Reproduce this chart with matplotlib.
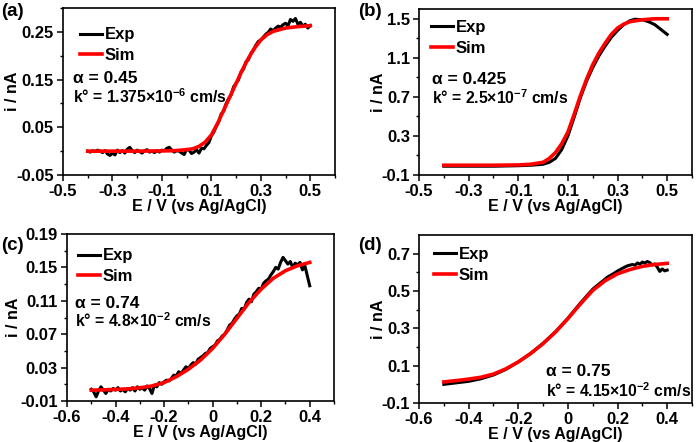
import numpy as np
import matplotlib
matplotlib.use("Agg")
import matplotlib.pyplot as plt

plt.rcParams['font.family'] = ['Liberation Sans', 'DejaVu Sans']
plt.rcParams['font.weight'] = 'bold'
plt.rcParams['mathtext.fontset'] = 'custom'
plt.rcParams['mathtext.rm'] = 'Liberation Sans:bold'
plt.rcParams['mathtext.bf'] = 'Liberation Sans:bold'

# ---------------- data ----------------
# (a)
exp_a_x = np.round(np.arange(-0.40, 0.501, 0.01), 2)
exp_a_y = [0.000, -0.002, 0.001, -0.001, 0.002, 0.000, -0.003, 0.001, -0.006, -0.009,
           -0.004, -0.008, 0.002, -0.003, 0.001, -0.004, 0.004, 0.008, 0.001, -0.003,
           0.002, -0.001, -0.004, 0.001, 0.003, -0.002, 0.000, -0.003, 0.001, -0.002,
           0.002, 0.001, 0.006, 0.008, 0.002, -0.002, 0.001, 0.000, -0.004, -0.007,
           0.004, 0.002, -0.005, -0.002, 0.003, -0.004, 0.006, 0.005, 0.012, 0.018,
           0.032, 0.040, 0.052, 0.062, 0.078, 0.084, 0.100, 0.110, 0.118, 0.135,
           0.142, 0.150, 0.166, 0.172, 0.187, 0.192, 0.205, 0.212, 0.222, 0.230,
           0.233, 0.239, 0.245, 0.249, 0.256, 0.252, 0.258, 0.262, 0.260, 0.265,
           0.268, 0.263, 0.276, 0.272, 0.278, 0.266, 0.270, 0.262, 0.266, 0.258,
           0.263]
sim_a_x = [-0.4, -0.3, -0.2, -0.1, -0.05, 0, 0.025, 0.05, 0.075, 0.1, 0.125, 0.15,
           0.175, 0.2, 0.225, 0.25, 0.275, 0.3, 0.325, 0.35, 0.4, 0.45, 0.5]
sim_a_y = [0.000, 0.000, 0.000, 0.0005, 0.001, 0.003, 0.005, 0.010, 0.019, 0.034,
           0.058, 0.086, 0.114, 0.142, 0.170, 0.195, 0.216, 0.233, 0.244, 0.251,
           0.258, 0.261, 0.263]

# (b)
exp_b_x = [-0.4, -0.2, -0.1, -0.05, 0, 0.025, 0.05, 0.075, 0.1, 0.125, 0.15, 0.175,
           0.2, 0.225, 0.25, 0.275, 0.3, 0.325, 0.35, 0.37, 0.4, 0.425, 0.45, 0.475, 0.5]
exp_b_y = [-0.01, -0.01, -0.005, 0.0, 0.01, 0.03, 0.07, 0.16, 0.30, 0.49, 0.69, 0.86,
           1.00, 1.12, 1.22, 1.31, 1.38, 1.44, 1.48, 1.495, 1.49, 1.47, 1.44, 1.39, 1.34]
sim_b_x = [-0.4, -0.2, -0.1, -0.05, 0, 0.025, 0.05, 0.075, 0.1, 0.125, 0.15, 0.175,
           0.2, 0.225, 0.25, 0.275, 0.3, 0.325, 0.35, 0.4, 0.45, 0.5]
sim_b_y = [0.0, 0.0, 0.003, 0.01, 0.03, 0.07, 0.13, 0.22, 0.34, 0.52, 0.71, 0.88,
           1.03, 1.15, 1.25, 1.34, 1.405, 1.445, 1.47, 1.49, 1.50, 1.50]

# (c)
exp_c_x = np.round(np.arange(-0.50, 0.401, 0.01), 2)
exp_c_y = [0.004, 0.001, -0.005, 0.002, 0.007, 0.003, -0.001, 0.004, 0.002, 0.005,
           0.003, 0.006, 0.002, 0.004, 0.001, 0.005, 0.003, 0.006, 0.002, 0.007,
           0.004, 0.006, 0.003, 0.008, 0.005, -0.001, 0.009, 0.007, 0.012, 0.010,
           0.013, 0.015, 0.014, 0.017, 0.021, 0.020, 0.025, 0.023, 0.027, 0.031,
           0.029, 0.033, 0.036, 0.034, 0.040, 0.042, 0.044, 0.047, 0.048, 0.053,
           0.055, 0.057, 0.062, 0.064, 0.068, 0.070, 0.075, 0.081, 0.083, 0.088,
           0.092, 0.094, 0.101, 0.100, 0.108, 0.112, 0.109, 0.118, 0.121, 0.125,
           0.124, 0.131, 0.134, 0.136, 0.141, 0.145, 0.150, 0.148, 0.156, 0.162,
           0.158, 0.154, 0.157, 0.150, 0.155, 0.153, 0.156, 0.147, 0.152, 0.140,
           0.128]
sim_c_x = [-0.5, -0.45, -0.4, -0.35, -0.3, -0.25, -0.2, -0.15, -0.1, -0.05, 0,
           0.05, 0.1, 0.15, 0.2, 0.25, 0.3, 0.35, 0.4]
sim_c_y = [0.003, 0.0033, 0.0038, 0.0045, 0.0058, 0.008, 0.012, 0.019, 0.028, 0.039,
           0.053, 0.070, 0.089, 0.108, 0.124, 0.137, 0.146, 0.152, 0.156]

# (d)
exp_d_x = [-0.5, -0.45, -0.4, -0.35, -0.3, -0.25, -0.2, -0.15, -0.1, -0.05, 0, 0.05,
           0.1, 0.12, 0.14, 0.16, 0.18, 0.2, 0.22, 0.24, 0.26, 0.27, 0.28, 0.29, 0.3,
           0.31, 0.32, 0.33, 0.34, 0.35, 0.36, 0.37, 0.38, 0.39, 0.4]
exp_d_y = [0.0, 0.008, 0.016, 0.03, 0.05, 0.08, 0.12, 0.166, 0.22, 0.282, 0.354, 0.435,
           0.51, 0.532, 0.553, 0.575, 0.59, 0.607, 0.622, 0.635, 0.642, 0.638, 0.650,
           0.644, 0.655, 0.650, 0.658, 0.652, 0.640, 0.645, 0.628, 0.605, 0.618, 0.608,
           0.612]
sim_d_x = [-0.5, -0.45, -0.4, -0.35, -0.3, -0.25, -0.2, -0.15, -0.1, -0.05, 0,
           0.05, 0.1, 0.15, 0.2, 0.25, 0.3, 0.35, 0.4]
sim_d_y = [0.013, 0.02, 0.028, 0.038, 0.055, 0.083, 0.12, 0.165, 0.218, 0.28, 0.352,
           0.43, 0.503, 0.555, 0.592, 0.615, 0.632, 0.642, 0.648]

panel_labels = ["(a)", "(b)", "(c)", "(d)"]
alpha_texts = ["\u03b1 = 0.45", "\u03b1 = 0.425", "\u03b1 = 0.74", "\u03b1 = 0.75"]
k_texts = [r"k° = 1.375×10$^{\mathbf{-6}}$ cm/s",
           r"k° = 2.5×10$^{\mathbf{-7}}$ cm/s",
           r"k° = 4.8×10$^{\mathbf{-2}}$ cm/s",
           r"k° = 4.15×10$^{\mathbf{-2}}$ cm/s"]

x_major_ab = [-0.5, -0.3, -0.1, 0.1, 0.3, 0.5]
x_minor_ab = [-0.4, -0.2, 0.0, 0.2, 0.4, 0.6]
x_major_cd = [-0.6, -0.4, -0.2, 0.0, 0.2, 0.4]
x_minor_cd = [-0.5, -0.3, -0.1, 0.1, 0.3, 0.5]
y_major_a = [-0.05, 0.05, 0.15, 0.25]
y_minor_a = [0.0, 0.1, 0.2, 0.3]
y_major_b = [-0.1, 0.3, 0.7, 1.1, 1.5]
y_minor_b = [0.1, 0.5, 0.9, 1.3]
y_major_c = [-0.01, 0.03, 0.07, 0.11, 0.15, 0.19]
y_minor_c = [0.01, 0.05, 0.09, 0.13, 0.17]
y_major_d = [-0.1, 0.1, 0.3, 0.5, 0.7]
y_minor_d = [0.0, 0.2, 0.4, 0.6]

# ---------------- figure ----------------
fig = plt.figure(figsize=(6.98, 4.42), dpi=100)
W, H = 698.0, 442.0

def box(l, t, r, b):
    return [l / W, 1 - b / H, (r - l) / W, (b - t) / H]

axes = [fig.add_axes(box(63, 8, 335, 175)),
        fig.add_axes(box(419, 9, 692, 175)),
        fig.add_axes(box(67, 234, 334, 401)),
        fig.add_axes(box(419, 235, 692, 403))]

data = [(exp_a_x, exp_a_y, sim_a_x, sim_a_y),
        (exp_b_x, exp_b_y, sim_b_x, sim_b_y),
        (exp_c_x, exp_c_y, sim_c_x, sim_c_y),
        (exp_d_x, exp_d_y, sim_d_x, sim_d_y)]
xlims = [(-0.5, 0.6), (-0.5, 0.6), (-0.6, 0.5), (-0.6, 0.5)]
ylims = [(-0.05, 0.30), (-0.1, 1.6), (-0.01, 0.19), (-0.1, 0.8)]
xmaj = [x_major_ab, x_major_ab, x_major_cd, x_major_cd]
xmin = [x_minor_ab, x_minor_ab, x_minor_cd, x_minor_cd]
ymaj = [y_major_a, y_major_b, y_major_c, y_major_d]
ymin = [y_minor_a, y_minor_b, y_minor_c, y_minor_d]
yfmt = ["{:.2f}", "{:.1f}", "{:.2f}", "{:.1f}"]
# axes-fraction positions: text x, alpha y, k y
text_pos = [(0.037, 0.575, 0.468), (0.048, 0.575, 0.468),
            (0.030, 0.585, 0.480), (0.465, 0.190, 0.072)]
# legend anchor: handle left x, first row center y (axes fraction)
leg_pos = [(0.0625, 0.856), (0.044, 0.904), (0.041, 0.886), (0.055, 0.899)]
ylabel_x = [-0.185, -0.148, -0.202, -0.148]
label_pos = [(1, 11), (358, 12), (1, 245), (358, 246)]

for i, ax in enumerate(axes):
    ex, ey, sx, sy = data[i]
    ax.plot(ex, ey, color="black", lw=2.2, label="Exp")
    ax.plot(sx, sy, color="red", lw=2.6, label="Sim")
    ax.set_xlim(*xlims[i])
    ax.set_ylim(*ylims[i])
    ax.set_xticks(xmaj[i])
    ax.set_xticks(xmin[i], minor=True)
    ax.set_xticklabels(["{:.1f}".format(v) if abs(v) > 1e-9 else "0" for v in xmaj[i]])
    ax.set_yticks(ymaj[i])
    ax.set_yticks(ymin[i], minor=True)
    ax.set_yticklabels([yfmt[i].format(v) for v in ymaj[i]])
    ax.tick_params(which="major", direction="out", length=4.5, width=1.1,
                   labelsize=12, pad=2)
    ax.tick_params(which="minor", direction="out", length=2.5, width=1.0)
    for sp in ax.spines.values():
        sp.set_linewidth(1.2)
    for lab in ax.get_xticklabels() + ax.get_yticklabels():
        lab.set_fontweight("bold")
    ax.set_xlabel("E / V (vs Ag/AgCl)", fontsize=11.5, fontweight="bold", labelpad=0)
    ax.set_ylabel("i / nA", fontsize=11.5, fontweight="bold", va="center")
    ax.yaxis.set_label_coords(ylabel_x[i], 0.5)
    hx, hy = leg_pos[i]
    ax.legend(loc="upper left", bbox_to_anchor=(hx, hy + 0.028), frameon=False,
              handlelength=1.3, handletextpad=0.2, labelspacing=0.35,
              borderaxespad=0, borderpad=0, prop={"weight": "bold", "size": 12})
    tx, ty1, ty2 = text_pos[i]
    ax.text(tx, ty1, alpha_texts[i], transform=ax.transAxes, fontsize=12.5,
            fontweight="bold", va="center", ha="left")
    ax.text(tx, ty2, k_texts[i], transform=ax.transAxes, fontsize=11.3,
            fontweight="bold", va="center", ha="left")
    lx, ly = label_pos[i]
    fig.text(lx / W, 1 - ly / H, panel_labels[i], fontsize=13.5,
             fontweight="bold", va="center", ha="left")

fig.savefig("out.png", dpi=100)
